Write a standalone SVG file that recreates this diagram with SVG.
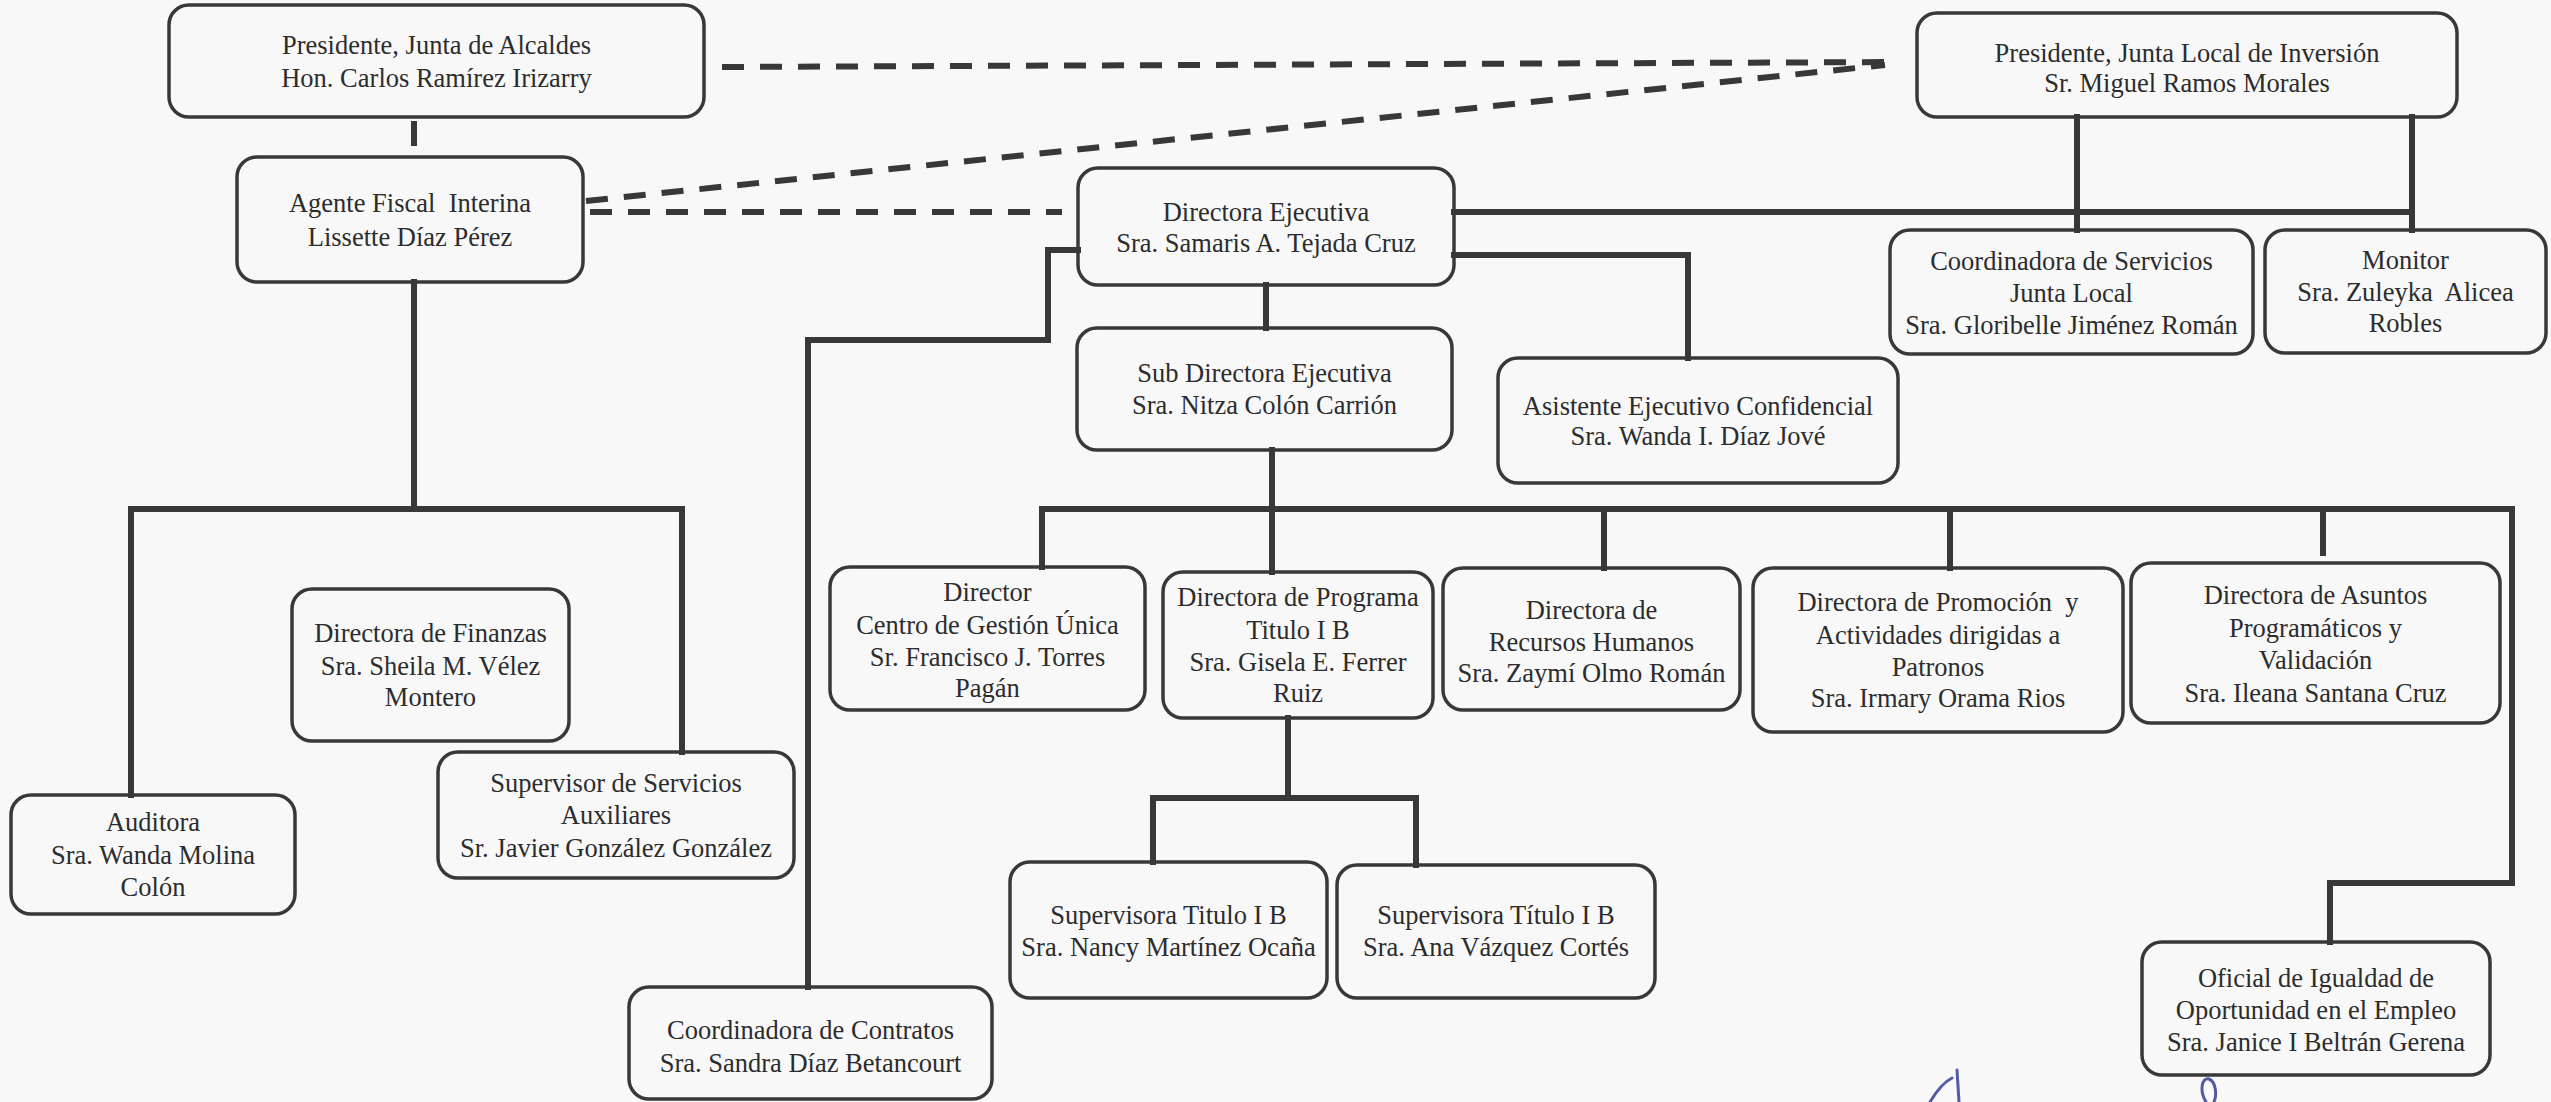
<svg xmlns="http://www.w3.org/2000/svg" width="2551" height="1102" viewBox="0 0 2551 1102">
<style>
.bg{fill:#f8f8f9}
.node rect{fill:none;stroke:#383838;stroke-width:3.5}
.node text{font-family:"Liberation Serif","Times New Roman",serif;font-size:26.5px;fill:#2c2c2c;text-anchor:middle}
.conn{fill:none;stroke:#383838;stroke-width:6;stroke-linejoin:miter;stroke-linecap:square}
.dash{fill:none;stroke:#383838;stroke-width:6;stroke-dasharray:22 16}
.sig{fill:none;stroke:#3f4a9a;stroke-width:3;stroke-linecap:round;opacity:0.9}
</style>
<rect class="bg" x="0" y="0" width="2551" height="1102"/>

<g id="connectors">
  <path class="dash" d="M722,67 L1900,62"/>
  <path class="dash" d="M586,201 L1885,65"/>
  <path class="dash" d="M590,212 L1062,212"/>
  <path class="conn" d="M414,124 V143"/>
  <path class="conn" d="M414,282 V509"/>
  <path class="conn" d="M131,509 H682"/>
  <path class="conn" d="M131,509 V795"/>
  <path class="conn" d="M682,509 V752"/>
  <path class="conn" d="M1078,250 H1048 V340 H808 V987"/>
  <path class="conn" d="M1266,285 V328"/>
  <path class="conn" d="M1454,212 H2412"/>
  <path class="conn" d="M2077,117 V230"/>
  <path class="conn" d="M2412,117 V230"/>
  <path class="conn" d="M1454,255 H1688 V358"/>
  <path class="conn" d="M1272,450 V572"/>
  <path class="conn" d="M1042,567 V509 H2512 V883 H2330 V942"/>
  <path class="conn" d="M1604,509 V568"/>
  <path class="conn" d="M1950,509 V568"/>
  <path class="conn" d="M2323,509 V553"/>
  <path class="conn" d="M1288,718 V798"/>
  <path class="conn" d="M1153,862 V798 H1416 V865"/>
</g>

<g id="n_alcaldes" class="node">
  <rect x="169" y="5" width="535" height="112" rx="20"/>
  <text><tspan x="436.5" y="54">Presidente, Junta de Alcaldes</tspan><tspan x="436.5" y="87">Hon. Carlos Ramírez Irizarry</tspan></text>
</g>
<g id="n_agente" class="node">
  <rect x="237" y="157" width="346" height="125" rx="20"/>
  <text xml:space="preserve"><tspan x="410" y="212">Agente Fiscal  Interina</tspan><tspan x="410" y="246">Lissette Díaz Pérez</tspan></text>
</g>
<g id="n_junta_local" class="node">
  <rect x="1917" y="13" width="540" height="104" rx="20"/>
  <text><tspan x="2187" y="62">Presidente, Junta Local de Inversión</tspan><tspan x="2187" y="92">Sr. Miguel Ramos Morales</tspan></text>
</g>
<g id="n_directora_ej" class="node">
  <rect x="1078" y="168" width="376" height="117" rx="20"/>
  <text><tspan x="1266" y="221">Directora Ejecutiva</tspan><tspan x="1266" y="252">Sra. Samaris A. Tejada Cruz</tspan></text>
</g>
<g id="n_sub_dir" class="node">
  <rect x="1077" y="328" width="375" height="122" rx="20"/>
  <text><tspan x="1264.5" y="382">Sub Directora Ejecutiva</tspan><tspan x="1264.5" y="414">Sra. Nitza Colón Carrión</tspan></text>
</g>
<g id="n_asistente" class="node">
  <rect x="1498" y="358" width="400" height="125" rx="20"/>
  <text><tspan x="1698" y="415">Asistente Ejecutivo Confidencial</tspan><tspan x="1698" y="445">Sra. Wanda I. Díaz Jové</tspan></text>
</g>
<g id="n_coord_serv" class="node">
  <rect x="1890" y="230" width="363" height="124" rx="20"/>
  <text><tspan x="2071.5" y="270">Coordinadora de Servicios</tspan><tspan x="2071.5" y="302">Junta Local</tspan><tspan x="2071.5" y="334">Sra. Gloribelle Jiménez Román</tspan></text>
</g>
<g id="n_monitor" class="node">
  <rect x="2265" y="230" width="281" height="123" rx="20"/>
  <text xml:space="preserve"><tspan x="2405.5" y="269">Monitor</tspan><tspan x="2405.5" y="301">Sra. Zuleyka  Alicea</tspan><tspan x="2405.5" y="332">Robles</tspan></text>
</g>
<g id="n_finanzas" class="node">
  <rect x="292" y="589" width="277" height="152" rx="20"/>
  <text><tspan x="430.5" y="642">Directora de Finanzas</tspan><tspan x="430.5" y="675">Sra. Sheila M. Vélez</tspan><tspan x="430.5" y="706">Montero</tspan></text>
</g>
<g id="n_auditora" class="node">
  <rect x="11" y="795" width="284" height="119" rx="20"/>
  <text><tspan x="153" y="831">Auditora</tspan><tspan x="153" y="864">Sra. Wanda Molina</tspan><tspan x="153" y="896">Colón</tspan></text>
</g>
<g id="n_sup_serv" class="node">
  <rect x="438" y="752" width="356" height="126" rx="20"/>
  <text><tspan x="616" y="792">Supervisor de Servicios</tspan><tspan x="616" y="824">Auxiliares</tspan><tspan x="616" y="857">Sr. Javier González González</tspan></text>
</g>
<g id="n_contratos" class="node">
  <rect x="629" y="987" width="363" height="112" rx="20"/>
  <text><tspan x="810.5" y="1039">Coordinadora de Contratos</tspan><tspan x="810.5" y="1072">Sra. Sandra Díaz Betancourt</tspan></text>
</g>
<g id="n_centro" class="node">
  <rect x="830" y="567" width="315" height="143" rx="20"/>
  <text><tspan x="987.5" y="601">Director</tspan><tspan x="987.5" y="634">Centro de Gestión Única</tspan><tspan x="987.5" y="666">Sr. Francisco J. Torres</tspan><tspan x="987.5" y="697">Pagán</tspan></text>
</g>
<g id="n_titulo" class="node">
  <rect x="1163" y="572" width="270" height="146" rx="20"/>
  <text><tspan x="1298" y="606">Directora de Programa</tspan><tspan x="1298" y="639">Titulo I B</tspan><tspan x="1298" y="671">Sra. Gisela E. Ferrer</tspan><tspan x="1298" y="702">Ruiz</tspan></text>
</g>
<g id="n_recursos" class="node">
  <rect x="1443" y="568" width="297" height="142" rx="20"/>
  <text><tspan x="1591.5" y="619">Directora de</tspan><tspan x="1591.5" y="651">Recursos Humanos</tspan><tspan x="1591.5" y="682">Sra. Zaymí Olmo Román</tspan></text>
</g>
<g id="n_promocion" class="node">
  <rect x="1753" y="568" width="370" height="164" rx="20"/>
  <text xml:space="preserve"><tspan x="1938" y="611">Directora de Promoción  y</tspan><tspan x="1938" y="644">Actividades dirigidas a</tspan><tspan x="1938" y="676">Patronos</tspan><tspan x="1938" y="707">Sra. Irmary Orama Rios</tspan></text>
</g>
<g id="n_asuntos" class="node">
  <rect x="2131" y="563" width="369" height="160" rx="20"/>
  <text><tspan x="2315.5" y="604">Directora de Asuntos</tspan><tspan x="2315.5" y="637">Programáticos y</tspan><tspan x="2315.5" y="669">Validación</tspan><tspan x="2315.5" y="702">Sra. Ileana Santana Cruz</tspan></text>
</g>
<g id="n_sup1" class="node">
  <rect x="1010" y="862" width="317" height="136" rx="20"/>
  <text><tspan x="1168.5" y="924">Supervisora Titulo I B</tspan><tspan x="1168.5" y="956">Sra. Nancy Martínez Ocaña</tspan></text>
</g>
<g id="n_sup2" class="node">
  <rect x="1337" y="865" width="318" height="133" rx="20"/>
  <text><tspan x="1496" y="924">Supervisora Título I B</tspan><tspan x="1496" y="956">Sra. Ana Vázquez Cortés</tspan></text>
</g>
<g id="n_oficial" class="node">
  <rect x="2142" y="942" width="348" height="133" rx="20"/>
  <text><tspan x="2316" y="987">Oficial de Igualdad de</tspan><tspan x="2316" y="1019">Oportunidad en el Empleo</tspan><tspan x="2316" y="1051">Sra. Janice I Beltrán Gerena</tspan></text>
</g>

<g id="signature">
  <path class="sig" d="M1930,1102 C1936,1092 1944,1082 1952,1078"/>
  <path class="sig" d="M1957,1070 L1959,1102"/>
  <path class="sig" d="M2206,1102 C2199,1090 2202,1077 2209,1079 C2216,1082 2217,1095 2214,1102"/>
</g>
</svg>
